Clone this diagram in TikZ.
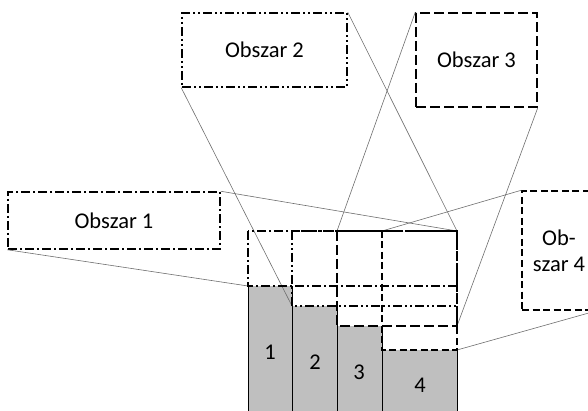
\documentclass[tikz,border=0pt]{standalone}
\usepackage{fontspec}
\setmainfont{Carlito}
\definecolor{colgray}{RGB}{191,191,191}
\definecolor{linkgray}{RGB}{110,110,110}
\tikzset{
  dashdot/.style={line width=1.5pt, dash pattern=on 9pt off 3pt on 2pt off 3pt},
  dashdotdot/.style={line width=1.5pt, dash pattern=on 9pt off 3pt on 2pt off 3pt on 2pt off 3pt},
  longdash/.style={line width=1.5pt, dash pattern=on 10pt off 4pt},
  shortdash/.style={line width=1.5pt, dash pattern=on 7pt off 3.5pt},
  areabox/.style={draw, rectangle, inner sep=2pt, align=center, font=\fontsize{22.5}{27}\selectfont, fill=white},
  link/.style={linkgray, line width=0.6pt},
  colsep/.style={black, line width=0.8pt},
  num/.style={font=\fontsize{22.5}{27}\selectfont, inner sep=0pt}
}
\begin{document}
\begin{tikzpicture}[x=1pt,y=-1pt]
\useasboundingbox (0,0) rectangle (588,411);
% region corners
\coordinate (r1nw) at (248,231); \coordinate (r1ne) at (457,231);
\coordinate (r1sw) at (248,286); \coordinate (r1se) at (457,286);
\coordinate (r2nw) at (292,231); \coordinate (r2ne) at (457,231);
\coordinate (r2sw) at (292,306); \coordinate (r2se) at (457,306);
\coordinate (r3nw) at (337,231); \coordinate (r3ne) at (457,231);
\coordinate (r3sw) at (337,326); \coordinate (r3se) at (457,326);
\coordinate (r4nw) at (382,231); \coordinate (r4ne) at (457,231);
\coordinate (r4sw) at (382,350); \coordinate (r4se) at (457,350);
\coordinate (bot1) at (248,415); \coordinate (bot2) at (292,415);
\coordinate (bot3) at (337,415); \coordinate (bot4) at (382,415);
\coordinate (bot5) at (457,415);
% gray columns
\fill[colgray] (r1sw) rectangle (bot2);
\fill[colgray] (r2sw) rectangle (bot3);
\fill[colgray] (r3sw) rectangle (bot4);
\fill[colgray] (r4sw) rectangle (bot5);
\draw[colsep] (r1sw) -- (bot1);
\draw[colsep] (r1sw -| r2sw) -- (bot2);
\draw[colsep] (r2sw -| r3sw) -- (bot3);
\draw[colsep] (r3sw -| r4sw) -- (bot4);
\draw[colsep] (r4se) -- (bot5);
% numbers
\node[num] (n1) at (270,352) {1};
\node[num] (n2) at (315,362) {2};
\node[num] (n3) at (359,372) {3};
\node[num] (n4) at (420,385) {4};
% boxes
\node[areabox, dashdot, minimum width=212pt, minimum height=57pt] (o1) at (114,220.5) {Obszar 1};
\node[areabox, dashdotdot, minimum width=165pt, minimum height=74pt] (o2) at (264.5,50) {Obszar 2};
\node[areabox, longdash, minimum width=121pt, minimum height=94pt] (o3) at (476.5,60) {Obszar 3};
\node[areabox, shortdash, minimum width=74pt, minimum height=119pt] (o4) at (559,250.5) {Ob-\\[-1pt]szar 4};
% connectors
\draw[link] (o1.north east) -- (r1ne);
\draw[link] (o1.south west) -- (r1sw);
\draw[link] (o2.south west) -- (r2sw);
\draw[link] (o2.north east) -- (r2ne);
\draw[link] (o3.north west) -- (r3nw);
\draw[link] (o3.south east) -- (r3se);
\draw[link] (o4.north west) -- (r4nw);
\draw[link] (o4.south east) -- (r4se);
% region outlines
\draw[dashdot] (r1nw) rectangle (r1se);
\draw[dashdotdot] (r2nw) rectangle (r2se);
\draw[longdash] (r3nw) rectangle (r3se);
\draw[shortdash] (r4nw) rectangle (r4se);
\end{tikzpicture}
\end{document}
